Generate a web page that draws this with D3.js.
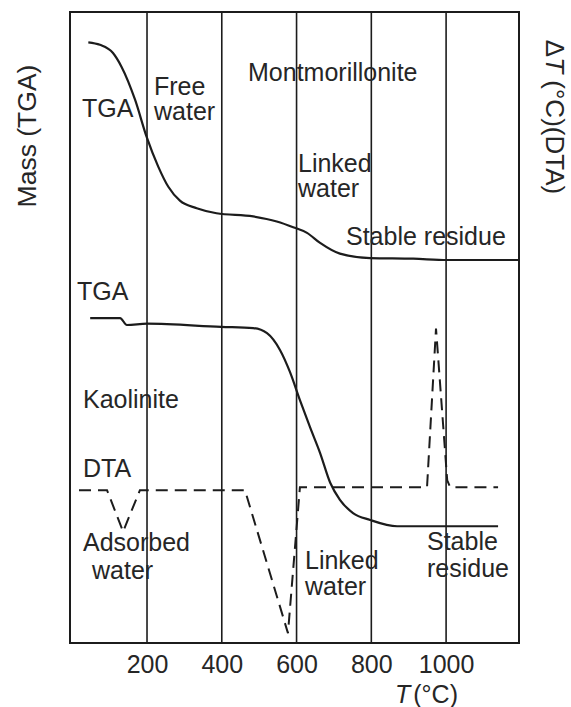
<!DOCTYPE html>
<html>
<head>
<meta charset="utf-8">
<script src="https://cdn.jsdelivr.net/npm/d3@7"></script>
<style>
  html, body { margin: 0; padding: 0; background: #fff; }
  svg { display: block; }
  text { font-family: "Liberation Sans", Arial, Helvetica, sans-serif; fill: #262626; }
</style>
</head>
<body>
<svg id="chart" width="571" height="707"></svg>
<script>
// ---------------- data ----------------
const gridTemps = [200, 400, 600, 800, 1000];
const tickLabels = ["200", "400", "600", "800", "1000"];

// Montmorillonite TGA (mass, arbitrary units)
const montTemp = [43, 74, 109, 132, 168, 199, 230, 257, 288, 333, 386, 484, 547, 591, 628, 663, 716, 797, 912, 1003, 1193];
const montMass = [95.2, 94.8, 93.5, 91.3, 86.1, 80.2, 75.5, 72.3, 70.1, 68.9, 68.1, 67.6, 66.8, 65.9, 65.0, 63.4, 61.7, 61.0, 60.9, 60.7, 60.7];

// Kaolinite TGA (mass, arbitrary units)
const kaolTemp = [48, 128, 146, 200, 398, 484, 521, 556, 582, 609, 636, 663, 690, 716, 751, 797, 869, 1003, 1139];
const kaolMass = [51.5, 51.5, 50.4, 50.6, 50.1, 49.9, 49.1, 46.4, 43.0, 38.5, 34.2, 30.1, 25.4, 22.7, 20.6, 19.5, 18.5, 18.5, 18.5];

// Kaolinite DTA (ΔT, arbitrary units)
const dtaTemp = [18, 93, 136, 181, 462, 577, 609, 949, 973, 1003, 1011, 1139];
const dtaDelta = [0, 0, -2.1, 0, 0, -7.25, 0.15, 0.15, 8.2, 0.5, 0.15, 0.15];

// ---------------- layout ----------------
const svg = d3.select("#chart");
const pLeft = 70, pRight = 519, pTop = 12, pBottom = 643;
const ink = "#1c1c1c";

const x = d3.scaleLinear().domain([-6, 1195]).range([pLeft, pRight]);
const yMass = d3.scaleLinear().domain([0, 100]).range([pBottom, pTop]);
const yDta = d3.scaleLinear().domain([-7.75, 24.25]).range([pBottom, pTop]);

// grid lines
svg.append("g").selectAll("line").data(gridTemps).join("line")
  .attr("x1", d => x(d)).attr("x2", d => x(d))
  .attr("y1", pTop).attr("y2", pBottom)
  .attr("stroke", ink).attr("stroke-width", 1.6);

// frame
svg.append("rect")
  .attr("x", pLeft).attr("y", pTop)
  .attr("width", pRight - pLeft).attr("height", pBottom - pTop)
  .attr("fill", "none").attr("stroke", ink).attr("stroke-width", 2);

// x axis tick labels
const xAxis = d3.axisBottom(x).tickValues(gridTemps)
  .tickFormat((d, i) => tickLabels[i]).tickSize(0).tickPadding(0);
const ax = svg.append("g").attr("transform", `translate(0,${pBottom})`).call(xAxis);
ax.select(".domain").remove();
ax.selectAll("text")
  .attr("y", 30).attr("dy", 0)
  .style("font-size", "25px")
  .style("font-family", "'Liberation Sans', Arial, sans-serif")
  .attr("fill", "#262626");

// curves
const lineMass = d3.line().x(d => x(d[0])).y(d => yMass(d[1])).curve(d3.curveMonotoneX);
const lineDta = d3.line().x(d => x(d[0])).y(d => yDta(d[1])).curve(d3.curveLinear);

svg.append("path")
  .datum(montTemp.map((t, i) => [t, montMass[i]]))
  .attr("d", lineMass).attr("fill", "none")
  .attr("stroke", ink).attr("stroke-width", 2.2).attr("stroke-linejoin", "round");

svg.append("path")
  .datum(kaolTemp.map((t, i) => [t, kaolMass[i]]))
  .attr("d", lineMass).attr("fill", "none")
  .attr("stroke", ink).attr("stroke-width", 2.2).attr("stroke-linejoin", "round");

svg.append("path")
  .datum(dtaTemp.map((t, i) => [t, dtaDelta[i]]))
  .attr("d", lineDta).attr("fill", "none")
  .attr("stroke", ink).attr("stroke-width", 2).attr("stroke-dasharray", "12,7");

// annotations
const fs = 25;
function label(txt, px, py) {
  svg.append("text").attr("x", px).attr("y", py)
    .style("font-size", fs + "px").text(txt);
}
label("Montmorillonite", 248, 81);
label("Free", 154, 95);
label("water", 154, 120);
label("TGA", 82, 117);
label("Linked", 298, 172);
label("water", 298, 197);
label("Stable residue", 346, 245);
label("TGA", 77, 300);
label("Kaolinite", 83, 408);
label("DTA", 83, 477);
label("Adsorbed", 83, 551);
label("water", 92, 579);
label("Linked", 305, 569);
label("water", 305, 595);
label("Stable", 427, 550);
label("residue", 427, 577);

// x axis title
const xt = svg.append("text").attr("x", 395).attr("y", 703).style("font-size", fs + "px");
xt.append("tspan").style("font-style", "italic").text("T");
xt.append("tspan").attr("dx", 3).text("(°C)");

// left axis title
svg.append("text")
  .attr("transform", "translate(27,136) rotate(-90)")
  .attr("text-anchor", "middle").attr("dominant-baseline", "central")
  .style("font-size", "26.5px").text("Mass (TGA)");

// right axis title
const rt = svg.append("text")
  .attr("transform", "translate(555,117) rotate(90)")
  .attr("text-anchor", "middle").attr("dominant-baseline", "central")
  .style("font-size", "26px");
rt.append("tspan").text("Δ");
rt.append("tspan").style("font-style", "italic").text("T");
rt.append("tspan").text(" (°C)(DTA)");
</script>
</body>
</html>
